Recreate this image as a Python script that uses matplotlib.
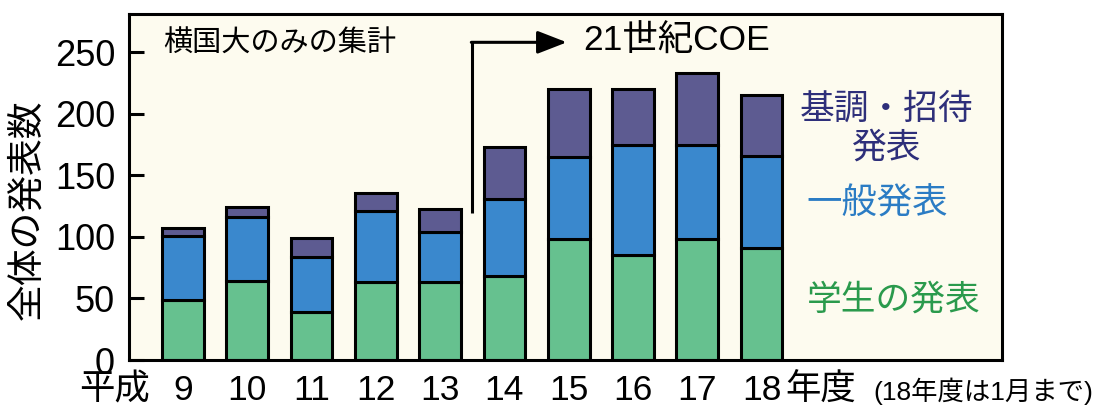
import matplotlib.pyplot as plt

# --- data -------------------------------------------------------------------
years = ["9", "10", "11", "12", "13", "14", "15", "16", "17", "18"]
students = [49, 64, 39, 63, 63, 68, 98, 85, 98, 91]   # 学生の発表
general = [52, 52, 45, 58, 41, 63, 67, 90, 77, 75]    # 一般発表
invited = [6, 8, 15, 15, 19, 42, 55, 45, 58, 49]      # 基調・招待発表
y_ticks = [0, 50, 100, 150, 200, 250]

plt.rcParams["font.family"] = ["Liberation Sans", "Noto Sans CJK JP", "DejaVu Sans"]

c_green = "#66c18f"
c_blue = "#3a88cd"
c_purple = "#5d5b91"

fig = plt.figure(figsize=(11.09, 4.08), dpi=100)
ax = fig.add_axes([129 / 1109, 48 / 408, 873 / 1109, 346 / 408])
ax.set_facecolor("#fdfbef")

x = list(range(len(years)))
bottom2 = [s + g for s, g in zip(students, general)]
ax.bar(x, students, width=0.65, color=c_green, edgecolor="black", linewidth=2.2)
ax.bar(x, general, width=0.65, bottom=students, color=c_blue, edgecolor="black", linewidth=2.2)
ax.bar(x, invited, width=0.65, bottom=bottom2, color=c_purple, edgecolor="black", linewidth=2.2)

ax.set_xlim(-0.84, 12.74)
ax.set_ylim(0, 281)
ax.set_yticks(y_ticks)
ax.set_xticks(x)
ax.set_xticklabels(years)
ax.tick_params(axis="y", direction="in", length=11, width=2.2, labelsize=26, pad=10)
ax.tick_params(axis="x", length=0, labelsize=25.5, pad=10)
for sp in ax.spines.values():
    sp.set_linewidth(2.2)

# x-axis extras
ax.annotate("年度", xy=(9, 0), xycoords=("data", "axes fraction"),
            xytext=(17, -10), textcoords="offset points",
            ha="left", va="top", fontsize=25.5, annotation_clip=False)
ax.annotate("平成", xy=(0, 0), xycoords=("data", "axes fraction"),
            xytext=(-24, -10), textcoords="offset points",
            ha="right", va="top", fontsize=25.5, annotation_clip=False)
fig.text(873 / 1109, 1 - 391 / 408, "(18年度は1月まで)", fontsize=19, va="center", ha="left")

# y label
fig.text(28 / 1109, 1 - 210 / 408, "全体の発表数", rotation=90, fontsize=26.5,
         ha="center", va="center")

# annotations inside the plot
ax.text(-0.31, 256.5, "横国大のみの集計", fontsize=21, va="center", ha="left")
ax.plot([4.5, 4.5], [119, 258], color="black", lw=2.2, solid_capstyle="butt")
ax.annotate("", xy=(5.97, 258), xytext=(4.485, 258),
            arrowprops=dict(arrowstyle="-|>,head_length=0.9,head_width=0.35",
                            mutation_scale=20, color="black", lw=2.2,
                            shrinkA=0, shrinkB=0))
ax.text(6.22, 259, "21世紀COE", fontsize=25.5, va="center", ha="left")

# legend-like labels
ax.text(10.95, 188, "基調・招待\n発表", fontsize=25, color="#2e2f7a",
        ha="center", va="center", multialignment="center", linespacing=1.2)
ax.text(9.70, 127, "一般発表", fontsize=25.5, color="#2b7cc4", ha="left", va="center")
ax.text(9.70, 49, "学生の発表", fontsize=25, color="#2a9a4c", ha="left", va="center")

fig.savefig("out.png", dpi=100)
